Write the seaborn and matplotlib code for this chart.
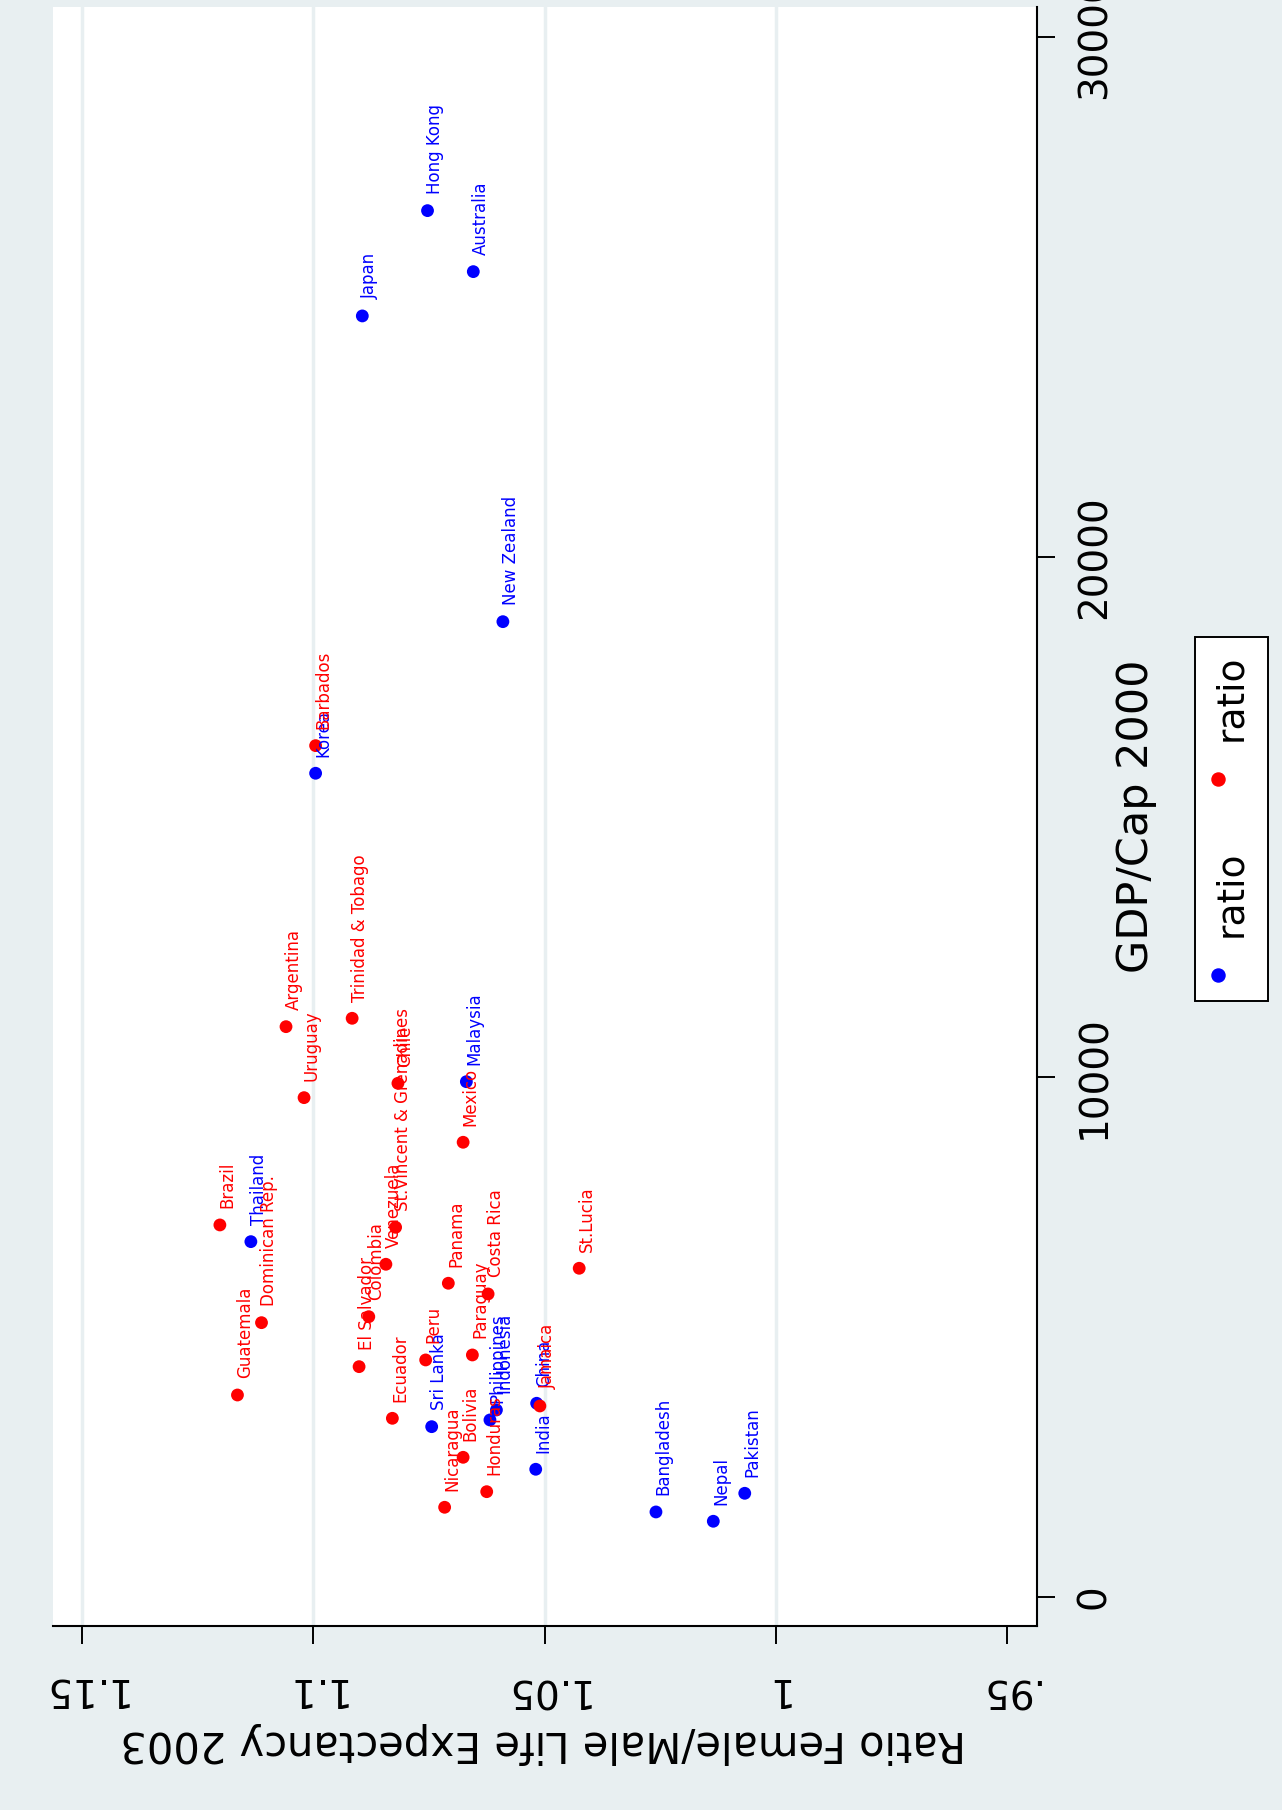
import pandas as pd
import seaborn as sns
import matplotlib.pyplot as plt
from matplotlib.lines import Line2D
from matplotlib.offsetbox import AnchoredOffsetbox, VPacker, TextArea, DrawingArea

# Asien / Pazifik (blau)
asia_country = ['Hong Kong', 'Australia', 'Japan', 'New Zealand', 'Korea', 'Malaysia',
                'Thailand', 'Sri Lanka', 'Philippines', 'Indonesia', 'China', 'India',
                'Bangladesh', 'Nepal', 'Pakistan']
asia_ratio = [1.0753, 1.0654, 1.0894, 1.0590, 1.0995, 1.0669,
              1.1135, 1.0744, 1.0618, 1.0604, 1.0517, 1.0519,
              1.0259, 1.0135, 1.0067]
asia_gdp = [26659, 25486, 24634, 18755, 15840, 9909,
            6833, 3275, 3404, 3596, 3725, 2456,
            1635, 1456, 1994]

# Lateinamerika / Karibik (rot)
latam_country = ['Barbados', 'Argentina', 'Trinidad & Tobago', 'Uruguay', 'Chile', 'Mexico',
                 'Brazil', 'Dominican Rep.', 'Guatemala', 'El Salvador', 'Colombia', 'Venezuela',
                 'St.Vincent & Grenadines', 'Ecuador', 'Peru', 'Bolivia', 'Nicaragua', 'Panama',
                 'Paraguay', 'Costa Rica', 'Honduras', 'Jamaica', 'St.Lucia']
latam_ratio = [1.0995, 1.1059, 1.0916, 1.1020, 1.0817, 1.0676,
               1.1202, 1.1112, 1.1164, 1.0901, 1.0880, 1.0843,
               1.0822, 1.0829, 1.0757, 1.0676, 1.0716, 1.0708,
               1.0656, 1.0622, 1.0625, 1.0510, 1.0425]
latam_gdp = [16371, 10967, 11128, 9602, 9878, 8744,
             7154, 5275, 3884, 4429, 5390, 6398,
             7109, 3436, 4558, 2686, 1725, 6033,
             4654, 5827, 2025, 3673, 6321]

ratio_ticks = [1.15, 1.1, 1.05, 1, 0.95]
ratio_ticklabels = ['1.15', '1.1', '1.05', '1', '.95']
gdp_ticks = [0, 10000, 20000, 30000]
gdp_ticklabels = ['0', '10000', '20000', '30000']
legend_labels = ['ratio', 'ratio']

BG = '#e8eff1'
BLUE = '#0000ff'
RED = '#ff0000'
colors = {'asia': BLUE, 'latam': RED}

df = pd.concat([
    pd.DataFrame({'country': asia_country, 'ratio': asia_ratio, 'gdp': asia_gdp, 'group': 'asia'}),
    pd.DataFrame({'country': latam_country, 'ratio': latam_ratio, 'gdp': latam_gdp, 'group': 'latam'}),
], ignore_index=True)

fig = plt.figure(figsize=(12.82, 18.10), dpi=100, facecolor=BG)
ax = fig.add_axes([0.0413, 0.1014, 0.7676, 0.8948])
ax.set_facecolor('white')

# Gitterlinien (ohne .95)
for t in ratio_ticks[:-1]:
    ax.axvline(t, color=BG, lw=2.5, zorder=0)

sns.scatterplot(data=df, x='ratio', y='gdp', hue='group', palette=colors,
                s=85, linewidth=0, legend=False, ax=ax, zorder=3)

for _, row in df.iterrows():
    ax.annotate(row['country'], (row['ratio'], row['gdp']), xytext=(5.5, 12),
                textcoords='offset points', rotation=90, ha='center', va='bottom',
                fontsize=12, color=colors[row['group']], zorder=4)

ax.set_xlim(1.1563, 0.9435)
ax.set_ylim(-567, 30577)

for side in ['left', 'top']:
    ax.spines[side].set_visible(False)
for side in ['bottom', 'right']:
    ax.spines[side].set_linewidth(1.5)
    ax.spines[side].set_color('black')

ax.set_xticks(ratio_ticks, labels=ratio_ticklabels)
ax.tick_params(axis='x', length=13, width=1.4, pad=18.5, labelsize=28, labelrotation=180)
ax.yaxis.tick_right()
ax.set_yticks(gdp_ticks, labels=gdp_ticklabels)
ax.tick_params(axis='y', length=13, width=1.4, pad=14.5, labelsize=28, labelrotation=90)
for t in ax.get_yticklabels():
    t.set_va('center')
ax.grid(False)

ax.set_xlabel('Ratio Female/Male Life Expectancy 2003', fontsize=30, rotation=180,
              va='center', ha='center')
ax.xaxis.set_label_coords(0.498, -0.0719)
ax.yaxis.set_label_position('right')
ax.set_ylabel('GDP/Cap 2000', fontsize=31, rotation=90, va='center', ha='center')
ax.yaxis.set_label_coords(1.1006, 0.5005)

# Legende (gedreht): rot oben, blau unten
def legend_entry(label, color):
    txt = TextArea(label, textprops=dict(fontsize=27, rotation=90, color='black'))
    da = DrawingArea(24, 12)
    da.add_artist(Line2D([2], [6], marker='o', markersize=9.4, color=color, linestyle='none'))
    return VPacker(children=[txt, da], align='center', pad=0, sep=21)

entries = VPacker(children=[legend_entry(legend_labels[1], RED), legend_entry(legend_labels[0], BLUE)],
                  align='center', pad=0, sep=46)
box = AnchoredOffsetbox(loc='center', child=entries, pad=1.3, borderpad=0, prop=dict(size=10),
                        frameon=True, bbox_to_anchor=(0.9606, 0.5475), bbox_transform=fig.transFigure)
box.patch.set_edgecolor('black')
box.patch.set_linewidth(1.4)
box.patch.set_facecolor('white')
fig.add_artist(box)

fig.savefig('out.png', dpi=100, facecolor=BG)
